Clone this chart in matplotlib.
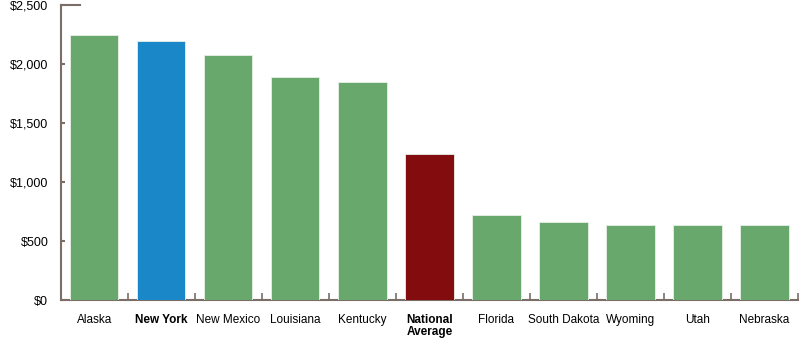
import numpy as np
import matplotlib.pyplot as plt
from matplotlib.ticker import FuncFormatter

# --- data ---
states = ["Alaska", "New York", "New Mexico", "Louisiana", "Kentucky",
          "National\nAverage", "Florida", "South Dakota", "Wyoming", "Utah", "Nebraska"]
costs = [2250, 2200, 2075, 1890, 1850, 1240, 720, 663, 638, 638, 638]
bold_labels = ["New York", "National\nAverage"]

GREEN = "#68a86c"
BLUE = "#1a88c8"
RED = "#820c0e"
AXIS = "#7a6e66"

colors = [BLUE if s == "New York" else RED if s.startswith("National") else GREEN
          for s in states]

plt.rcParams['font.family'] = ['Liberation Sans', 'DejaVu Sans']

fig = plt.figure(figsize=(8, 3.39), dpi=100)
ax = fig.add_axes([0.076, 0.114, 0.9215, 0.871])

x = np.arange(len(states))
ax.bar(x, costs, width=0.72, color=colors, edgecolor="#e8f0e8", linewidth=0.6, zorder=3)

ax.set_xlim(-0.5, len(states) - 0.5)
ax.set_ylim(0, 2500)

# spines
for side in ["top", "right"]:
    ax.spines[side].set_visible(False)
for side in ["left", "bottom"]:
    ax.spines[side].set_color(AXIS)
    ax.spines[side].set_linewidth(1.5)

# short cap at the top of the y axis
ax.axhline(2500, xmin=0, xmax=19 / 737, color=AXIS, lw=1.5, clip_on=False)

# y ticks
ax.set_yticks([0, 500, 1000, 1500, 2000, 2500])
ax.yaxis.set_major_formatter(FuncFormatter(lambda v, p: f"${int(v):,}"))
ax.tick_params(axis="y", direction="in", length=3, width=1.5, color=AXIS,
               labelsize=9, pad=9)

# x: labels at centers, ticks at category boundaries
ax.set_xticks(x)
ax.set_xticklabels(states, fontsize=8.5, linespacing=1.0)
ax.tick_params(axis="x", which="major", length=0, pad=10)
ax.set_xticks(np.arange(0.5, len(states), 1.0), minor=True)
ax.tick_params(axis="x", which="minor", direction="in", length=5, width=1.2, color=AXIS)

for lbl in ax.get_xticklabels():
    if lbl.get_text() in bold_labels:
        lbl.set_fontweight("bold")
    lbl.set_verticalalignment("top")

fig.savefig("out.png", dpi=100)
